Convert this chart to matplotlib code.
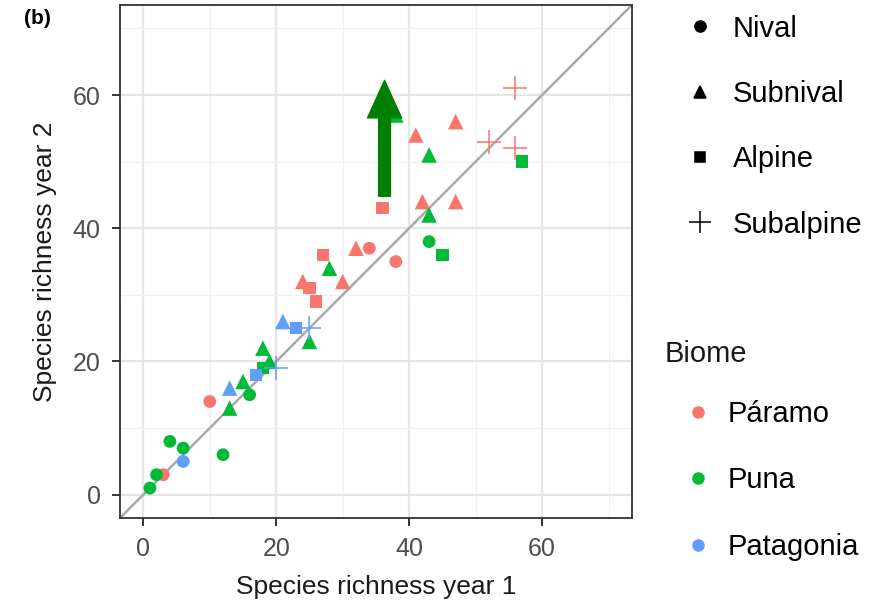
import matplotlib
matplotlib.use("Agg")
import matplotlib.pyplot as plt
from matplotlib.lines import Line2D

plt.rcParams['font.family'] = ['Liberation Sans', 'DejaVu Sans']

# data: (year1, year2) per biome and zone
paramo_nival = [(34, 37), (38, 35), (10, 14), (3, 3)]
paramo_subnival = [(47, 56), (41, 54), (42, 44), (47, 44), (32, 37), (30, 32), (24, 32)]
paramo_alpine = [(36, 43), (27, 36), (25, 31), (26, 29)]
paramo_subalpine = [(56, 61), (52, 53), (56, 52)]

puna_nival = [(43, 38), (16, 15), (4, 8), (6, 7), (12, 6), (2, 3), (1, 1)]
puna_subnival = [(38, 57), (43, 51), (43, 42), (28, 34), (25, 23), (18, 22), (19, 20), (15, 17), (13, 13)]
puna_alpine = [(45, 36), (57, 50), (18, 19)]

patag_nival = [(6, 5)]
patag_subnival = [(13, 16), (21, 26)]
patag_alpine = [(17, 18), (23, 25)]
patag_subalpine = [(20, 19), (25, 25)]

biomes = ["Páramo", "Puna", "Patagonia"]
colors = ["#F8766D", "#00BA38", "#619CFF"]
zones = ["Nival", "Subnival", "Alpine", "Subalpine"]
markers = ["o", "^", "s", "+"]
sizes = [85, 125, 80, 280]

data = {
    "Páramo": [paramo_nival, paramo_subnival, paramo_alpine, paramo_subalpine],
    "Puna": [puna_nival, puna_subnival, puna_alpine, []],
    "Patagonia": [patag_nival, patag_subnival, patag_alpine, patag_subalpine],
}

# arrow (annotation)
arrow_x = 36.3
arrow_y0 = 44.8
arrow_y1 = 62.2

fig = plt.figure(figsize=(8.87, 6.07), dpi=100)
ax = fig.add_axes([0.1353, 0.1466, 0.577, 0.845])

lim = (-3.5, 73.5)
ax.set_xlim(lim)
ax.set_ylim(lim)

ax.set_xticks([0, 20, 40, 60])
ax.set_yticks([0, 20, 40, 60])
ax.set_xticks([10, 30, 50, 70], minor=True)
ax.set_yticks([10, 30, 50, 70], minor=True)
ax.grid(True, which="major", color="#E6E6E6", linewidth=1.6)
ax.grid(True, which="minor", color="#F0F0F0", linewidth=0.9)
ax.set_axisbelow(True)
ax.tick_params(which="minor", length=0)
ax.tick_params(which="major", length=6, width=1.4, color="#333333",
               labelsize=18, labelcolor="#4D4D4D", pad=8)
for s in ax.spines.values():
    s.set_color("#333333")
    s.set_linewidth(1.3)

# 1:1 line
ax.plot(lim, lim, color="#AAAAAA", linewidth=1.8, zorder=1)

for b, c in zip(biomes, colors):
    for pts, m, sz in zip(data[b], markers, sizes):
        if not pts:
            continue
        xs = [p[0] for p in pts]
        ys = [p[1] for p in pts]
        if m == "+":
            ax.scatter(xs, ys, marker=m, s=sz, color=c, linewidths=1.1, zorder=3)
        else:
            ax.scatter(xs, ys, marker=m, s=sz, color=c, edgecolors="none", zorder=3)

ax.annotate("", xy=(arrow_x, arrow_y1), xytext=(arrow_x, arrow_y0),
            arrowprops=dict(arrowstyle="simple,head_width=2.45,head_length=2.7,tail_width=0.85",
                            color="#008000", shrinkA=0, shrinkB=0),
            zorder=5)

ax.set_xlabel("Species richness year 1", fontsize=19, color="#1A1A1A", labelpad=10)
ax.set_ylabel("Species richness year 2", fontsize=19, color="#1A1A1A", labelpad=11)

fig.text(0.027, 0.985, "(b)", fontsize=15, fontweight="bold", va="top", ha="left")

# legends
zone_handles = [Line2D([], [], marker=m, color="black", linestyle="none",
                       markersize=ms, markeredgewidth=1.1)
                for m, ms in zip(markers, [8, 9, 7.5, 16])]
leg1 = fig.legend(zone_handles, zones, loc="upper left", bbox_to_anchor=(0.760, 0.995),
                  frameon=False, fontsize=21, labelspacing=1.28, handlelength=1.0,
                  handletextpad=0.6, borderaxespad=0)

fig.text(665 / 887, 1 - 354 / 607, "Biome", fontsize=21, color="#1A1A1A",
         ha="left", va="center")
biome_handles = [Line2D([], [], marker="o", color=c, linestyle="none", markersize=8)
                 for c in colors]
leg2 = fig.legend(biome_handles, biomes, loc="upper left", bbox_to_anchor=(0.7576, 0.3605),
                  frameon=False, fontsize=21, labelspacing=1.32, handlelength=1.0,
                  handletextpad=0.5, borderaxespad=0)

fig.savefig("out.png", dpi=100)
